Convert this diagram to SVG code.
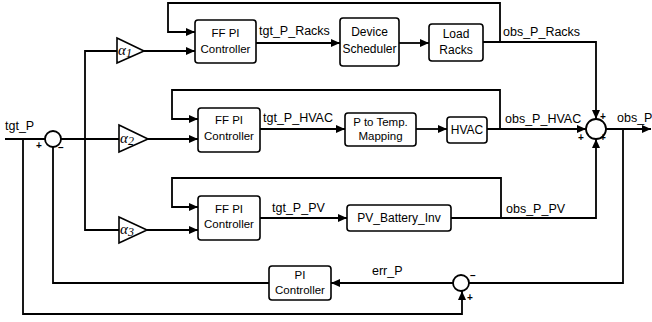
<svg xmlns="http://www.w3.org/2000/svg" width="652" height="322" viewBox="0 0 652 322">
<defs>
<marker id="arr" markerUnits="userSpaceOnUse" markerWidth="9" markerHeight="8" refX="9" refY="4" orient="auto">
<path d="M0,0 L9,4 L0,8 Z" fill="#000"/>
</marker>
</defs>
<style>
.box{fill:#fff;stroke:#000;stroke-width:1.6}
.tri{fill:#fff;stroke:#000;stroke-width:1.6}
.sum{fill:#fff;stroke:#000;stroke-width:1.8}
.ln{fill:none;stroke:#000;stroke-width:1.8}
.a{marker-end:url(#arr)}
.bt{font-family:"Liberation Sans",Arial,sans-serif;font-size:11.5px;text-anchor:middle;fill:#000}
.bt12{font-family:"Liberation Sans",Arial,sans-serif;font-size:12px;text-anchor:middle;fill:#000}
.lb{font-family:"Liberation Sans",Arial,sans-serif;font-size:12.5px;fill:#000}
.sg{font-family:"Liberation Sans",Arial,sans-serif;font-size:10px;font-weight:bold;fill:#000}
.al{font-family:"Liberation Serif","Times New Roman",serif;font-style:italic;font-size:15px;fill:#000}
</style>
<rect width="652" height="322" fill="#fff"/>
<g id="connectors">
<path class="ln a" d="M500,42 V3 H168 V32 H195"/>
<path class="ln a" d="M144,51 H195"/>
<path class="ln a" d="M256,43 H340"/>
<path class="ln a" d="M399,43 H429"/>
<path class="ln a" d="M483,42 H596 V119"/>
<path class="ln a" d="M500,129 V90 H172 V119 H198"/>
<path class="ln a" d="M148,139 H198"/>
<path class="ln a" d="M260,129 H345"/>
<path class="ln a" d="M416,129 H447"/>
<path class="ln a" d="M487,129 H586"/>
<path class="ln a" d="M501,218 V178 H172 V207 H198"/>
<path class="ln a" d="M147,230 H198"/>
<path class="ln a" d="M260,218 H347"/>
<path class="ln a" d="M451,218 H596 V139"/>
<path class="ln a" d="M606,129 H651"/>
<path class="ln" d="M623,129 V283 H469"/>
<path class="ln a" d="M453,283 H331"/>
<path class="ln" d="M269,283 H53 V147"/>
<path class="ln" d="M5,139 H45"/>
<path class="ln a" d="M23,139 V314 H462 V291"/>
<path class="ln" d="M61,139 H119"/>
<path class="ln" d="M117,51 H85 V230 H119"/>
</g>
<g id="sum_in">
<circle class="sum" cx="53" cy="139" r="8"/>
<text class="sg" x="36" y="149">+</text>
<text class="sg" x="58" y="151">–</text>
</g>
<g id="alpha1">
<polygon class="tri" points="117,38 144,51 117,63"/>
<text class="al" x="118" y="55">α<tspan font-size="12" dy="2">1</tspan></text>
</g>
<g id="alpha2">
<polygon class="tri" points="119,125 148,139 119,152"/>
<text class="al" x="120" y="143">α<tspan font-size="12" dy="2">2</tspan></text>
</g>
<g id="alpha3">
<polygon class="tri" points="119,217 147,230 119,243"/>
<text class="al" x="120" y="234">α<tspan font-size="12" dy="2">3</tspan></text>
</g>
<g id="ffpi1">
<rect class="box" x="195" y="20" width="61" height="43" rx="3"/>
<text class="bt" x="225.5" y="37">FF PI</text>
<text class="bt" x="225.5" y="53">Controller</text>
</g>
<g id="scheduler">
<rect class="box" x="340" y="18" width="59" height="48" rx="3"/>
<text class="bt12" x="369.5" y="36">Device</text>
<text class="bt12" x="369.5" y="53">Scheduler</text>
</g>
<g id="loadracks">
<rect class="box" x="429" y="24" width="54" height="37" rx="3"/>
<text class="bt12" x="456" y="38">Load</text>
<text class="bt12" x="456" y="54">Racks</text>
</g>
<g id="ffpi2">
<rect class="box" x="198" y="108" width="62" height="44" rx="3"/>
<text class="bt" x="229" y="124">FF PI</text>
<text class="bt" x="229" y="140">Controller</text>
</g>
<g id="ptotemp">
<rect class="box" x="345" y="113" width="71" height="33" rx="3"/>
<text class="bt" x="380.5" y="126">P to Temp.</text>
<text class="bt" x="380.5" y="140">Mapping</text>
</g>
<g id="hvac">
<rect class="box" x="447" y="117" width="40" height="26" rx="3"/>
<text class="bt12" x="467" y="134">HVAC</text>
</g>
<g id="ffpi3">
<rect class="box" x="198" y="196" width="62" height="44" rx="3"/>
<text class="bt" x="229" y="213">FF PI</text>
<text class="bt" x="229" y="228">Controller</text>
</g>
<g id="pvbatt">
<rect class="box" x="347" y="205" width="104" height="26" rx="3"/>
<text class="bt12" x="399" y="222">PV_Battery_Inv</text>
</g>
<g id="sum_out">
<circle class="sum" cx="596" cy="129" r="10"/>
<text class="sg" x="600" y="120">+</text>
<text class="sg" x="578" y="141">+</text>
<text class="sg" x="600" y="141">+</text>
</g>
<g id="pi">
<rect class="box" x="269" y="266" width="62" height="34" rx="3"/>
<text class="bt" x="300" y="279">PI</text>
<text class="bt" x="300" y="294">Controller</text>
</g>
<g id="sum_err">
<circle class="sum" cx="461" cy="283" r="8"/>
<text class="sg" x="470" y="279">–</text>
<text class="sg" x="467" y="301">+</text>
</g>
<g id="labels">
<text class="lb" font-size="13" x="5" y="130">tgt_P</text>
<text class="lb" x="259" y="35">tgt_P_Racks</text>
<text class="lb" x="263" y="122">tgt_P_HVAC</text>
<text class="lb" x="272" y="212">tgt_P_PV</text>
<text class="lb" x="503" y="36">obs_P_Racks</text>
<text class="lb" x="505" y="123">obs_P_HVAC</text>
<text class="lb" x="506" y="213">obs_P_PV</text>
<text class="lb" font-size="13" x="617" y="122">obs_P</text>
<text class="lb" font-size="13" x="372" y="275">err_P</text>
</g>
</svg>
